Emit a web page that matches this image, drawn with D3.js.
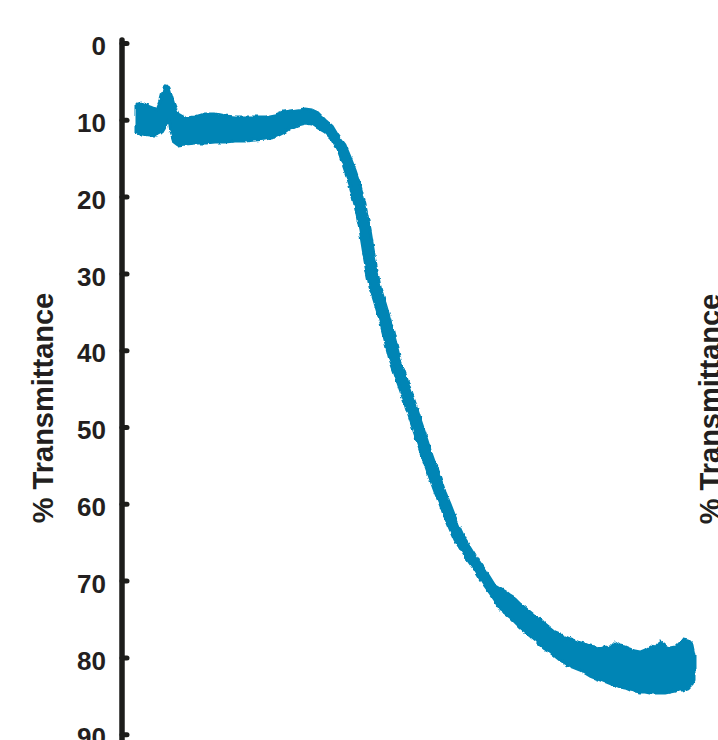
<!DOCTYPE html>
<html lang="en">
<head>
	<meta charset="UTF-8">
	<title>% Transmittance</title>
	<script src="https://cdn.jsdelivr.net/npm/d3@7"></script>
	<style>
		html, body{
			margin: 0;
			padding: 0;
			background: #fff;
		}
		svg{
			display: block;
		}
		.tick text{
			font-family: "Liberation Sans", Arial, Helvetica, sans-serif;
			font-weight: bold;
			font-size: 26px;
			fill: #231f20;
		}
		.ylabel{
			font-family: "Liberation Sans", Arial, Helvetica, sans-serif;
			font-weight: bold;
			font-size: 29px;
			fill: #231f20;
		}
	</style>
</head>
<body>
	<div class="chart"></div>
	<script>
		// position along the scan (arbitrary units, no x axis shown)
		var xVals = [0.4, 1.4, 3, 4.4, 5.2, 5.8, 6.4, 6.8, 7.2, 7.8, 8.6, 10, 12, 14, 16, 18, 20, 22, 24, 26,
			28, 29.6, 31, 32.4, 34, 35.4, 36.6, 38, 39.4, 40.6,
			42, 43, 44, 45, 46, 47, 48, 49, 50, 51, 52, 53, 54, 55, 56, 57, 58, 59, 60, 61,
			62, 63, 64, 65, 66, 67, 68, 69, 70, 71, 72, 73, 74, 75, 76, 77, 78, 79, 80, 81,
			82, 83, 84, 85, 86, 87, 88, 89, 90, 91, 92, 93, 94, 95, 96, 97, 98, 99, 100, 101,
			102, 103, 104, 105, 106, 107, 108, 109, 109.6, 110.6, 111.4, 111.8];
		// upper edge of the noisy trace (% transmittance)
		var upperT = [7.94, 7.81, 8.33, 8.72, 7.42, 5.86, 5.47, 5.86, 6.77, 8.07, 9.24, 9.77, 9.64, 9.24, 9.24, 9.51, 9.64, 9.64, 9.64, 9.64,
			9.38, 8.98, 8.85, 8.72, 8.59, 8.72, 9.11, 10.03, 10.81, 12.11,
			13.28, 14.84, 16.54, 18.49, 21.09, 24.35, 28.39, 31.77, 33.85, 36.07, 38.67, 41.28, 43.10, 45.05, 46.88, 48.96, 50.91, 52.99, 54.82, 56.64,
			58.46, 60.03, 61.72, 63.28, 64.71, 65.76, 66.80, 67.71, 68.62, 69.66, 70.70, 71.09, 71.48, 72.01, 72.40, 73.05, 73.57, 74.09, 74.61, 75.00,
			75.65, 76.17, 76.69, 76.95, 77.34, 77.60, 77.86, 78.13, 78.26, 78.52, 78.65, 78.78, 78.52, 78.78, 78.13, 78.52, 78.65, 78.91, 79.17, 79.30,
			79.04, 78.65, 78.78, 77.99, 78.52, 78.78, 78.65, 77.99, 77.73, 77.86, 78.39, 79.69];
		// lower edge of the noisy trace (% transmittance)
		var lowerT = [11.59, 11.85, 11.98, 11.98, 11.72, 11.07, 10.29, 9.90, 11.59, 12.89, 13.28, 13.15, 13.02, 13.02, 12.89, 12.89, 12.76, 12.76, 12.63, 12.50,
			12.24, 11.72, 11.07, 10.68, 10.42, 10.55, 11.07, 11.59, 12.50, 13.80,
			16.54, 18.49, 21.09, 24.35, 28.39, 31.77, 33.85, 36.07, 38.67, 41.28, 43.10, 45.05, 46.88, 48.96, 50.91, 52.99, 54.82, 56.64, 58.46, 60.03,
			61.72, 63.28, 64.71, 65.76, 66.80, 67.71, 68.62, 69.66, 70.70, 71.61, 72.53, 73.83, 74.22, 74.74, 75.39, 76.04, 76.56, 77.21, 77.73, 78.39,
			78.91, 79.30, 79.82, 80.34, 80.73, 81.12, 81.38, 81.64, 82.03, 82.42, 82.68, 82.94, 83.20, 83.46, 83.59, 83.85, 83.98, 84.24, 84.38, 84.51,
			84.51, 84.64, 84.64, 84.64, 84.64, 84.51, 84.38, 84.24, 84.24, 83.98, 83.46, 82.94];
		var yTicks = [0, 10, 20, 30, 40, 50, 60, 70, 80, 90];
		var yTitle = '% Transmittance';

		var width = 718;
		var height = 740;
		var axisX = 122;
		var lineColor = '#0585b5';

		var dataset = xVals.map(function(x, i){
			return { x: x, hi: upperT[i], lo: lowerT[i] };
		});

		var xScale = d3.scaleLinear()
						.domain([0, 112])
						.range([135, 695]);
		var yScale = d3.scaleLinear()
						.domain([0, 90])
						.range([43, 734.2]);

		var svg = d3.select('.chart')
					.append('svg')
					.attr('width', width)
					.attr('height', height);

		// slight roughness so the trace edges look noisy like the scan
		var defs = svg.append('defs');
		var rough = defs.append('filter')
						.attr('id', 'rough')
						.attr('x', '-5%').attr('y', '-5%')
						.attr('width', '110%').attr('height', '110%');
		rough.append('feTurbulence')
			.attr('type', 'fractalNoise')
			.attr('baseFrequency', 0.16)
			.attr('numOctaves', 2)
			.attr('seed', 3)
			.attr('result', 'noise');
		rough.append('feDisplacementMap')
			.attr('in', 'SourceGraphic')
			.attr('in2', 'noise')
			.attr('scale', 4)
			.attr('xChannelSelector', 'R')
			.attr('yChannelSelector', 'G');

		var yAxis = d3.axisLeft()
						.scale(yScale)
						.tickValues(yTicks)
						.tickSizeInner(-5)
						.tickSizeOuter(0)
						.tickPadding(16);

		var axisG = svg.append('g')
			.attr('class', 'axis')
			.attr('transform', 'translate(' + axisX + ',0)')
			.call(yAxis);
		axisG.select('.domain').remove();
		axisG.selectAll('.tick line')
			.attr('stroke', '#1d1d1b')
			.attr('stroke-width', 5)
			.attr('stroke-linecap', 'round');
		axisG.selectAll('.tick text')
			.attr('dy', '0.45em');
		axisG.append('line')
			.attr('x1', 0).attr('x2', 0)
			.attr('y1', yScale(0) - 3)
			.attr('y2', height + 10)
			.attr('stroke', '#1d1d1b')
			.attr('stroke-width', 5.5)
			.attr('stroke-linecap', 'round');

		var band = d3.area()
					.x(function(d){ return xScale(d.x); })
					.y0(function(d){ return yScale(d.hi); })
					.y1(function(d){ return yScale(d.lo); })
					.curve(d3.curveLinear);

		svg.append('g')
			.append('path')
			.attr('class', 'trace')
			.attr('d', band(dataset))
			.attr('fill', lineColor)
			.attr('stroke', lineColor)
			.attr('stroke-width', 3)
			.attr('stroke-linejoin', 'round')
			.attr('filter', 'url(#rough)');

		svg.append('text')
			.attr('class', 'ylabel')
			.attr('text-anchor', 'middle')
			.attr('transform', 'translate(53,' + 408 + ') rotate(-90)')
			.text(yTitle);

		svg.append('text')
			.attr('class', 'ylabel')
			.attr('text-anchor', 'middle')
			.attr('transform', 'translate(720,' + 409 + ') rotate(-90)')
			.text(yTitle);
	</script>
</body>
</html>
